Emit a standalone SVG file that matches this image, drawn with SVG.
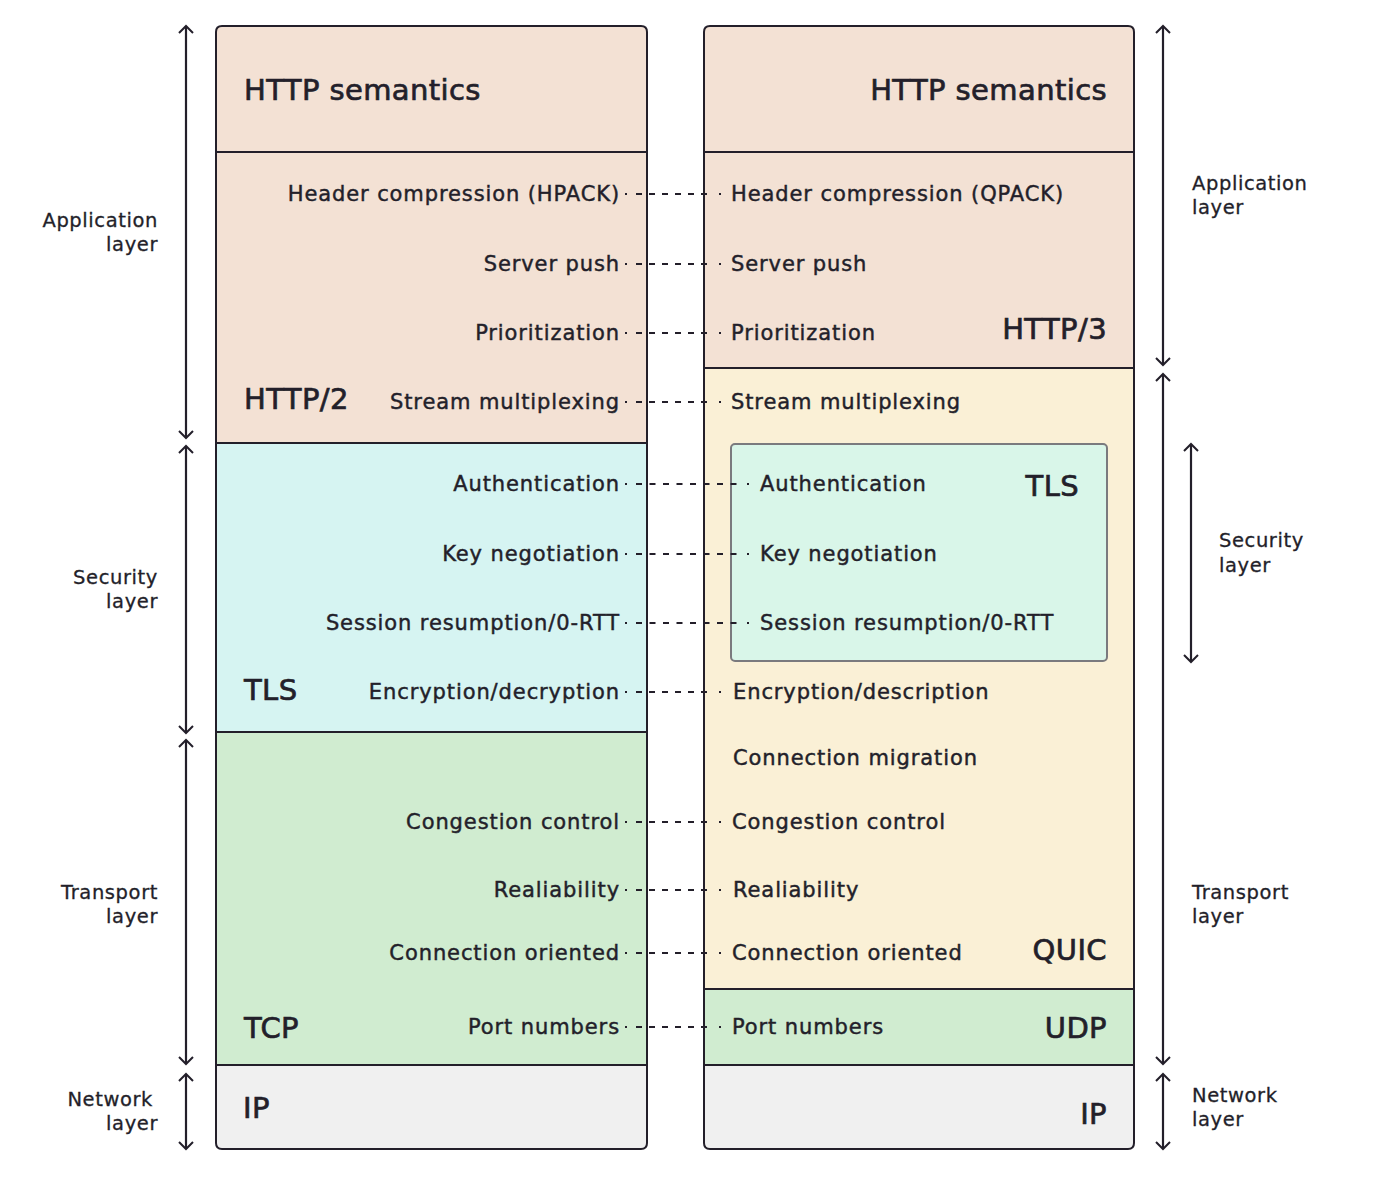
<svg xmlns="http://www.w3.org/2000/svg" width="1378" height="1204" viewBox="0 0 1378 1204">
<defs>
<marker id="ah" viewBox="0 0 16 16" refX="14" refY="8" markerWidth="16" markerHeight="16" markerUnits="userSpaceOnUse" orient="auto-start-reverse">
<path d="M7,1 L14,8 L7,15" fill="none" stroke="#231f2a" stroke-width="2"/>
</marker>
<style>
text{font-family:"DejaVu Sans","Noto Sans",sans-serif;fill:#231f2a;stroke:#231f2a;stroke-width:0.45;paint-order:stroke}
.f{font-size:21px;letter-spacing:0.9px}
.b{font-size:29px;letter-spacing:0.4px;stroke-width:0.7}
.l{font-size:19.5px;letter-spacing:0.6px;stroke-width:0.3}
.r{text-anchor:end}
.box{stroke:#231f2a;stroke-width:2}
.ar{stroke:#231f2a;stroke-width:2.2;fill:none;marker-start:url(#ah);marker-end:url(#ah)}
.d{stroke:#231f2a;stroke-width:2;stroke-dasharray:2 9 6 7 6 7 6 7 6 7 6 7 6 12 2 200;fill:none}
.d2{stroke-dasharray:2 9 6 7.5 6 7.5 6 7.5 6 7.5 6 7.5 6 7.5 6 7.5 6 10.5 2 200}
</style>
</defs>
<rect width="1378" height="1204" fill="#ffffff"/>

<g id="left-stack">
<g id="l-http-sem"><path class="box" d="M216,152 V32 Q216,26 222,26 H641 Q647,26 647,32 V152 Z" fill="#f3e1d4"/><text class="b" x="244" y="100">HTTP semantics</text></g>
<g id="l-http2"><rect class="box" x="216" y="152" width="431" height="291" fill="#f3e1d4"/><text class="b" x="244" y="409">HTTP/2</text>
<text class="f r" x="620" y="201">Header compression (HPACK)</text>
<text class="f r" x="620" y="271">Server push</text>
<text class="f r" x="620" y="340">Prioritization</text>
<text class="f r" x="620" y="409">Stream multiplexing</text></g>
<g id="l-tls"><rect class="box" x="216" y="443" width="431" height="289" fill="#d6f4f2"/><text class="b" x="244" y="700">TLS</text>
<text class="f r" x="620" y="491">Authentication</text>
<text class="f r" x="620" y="561">Key negotiation</text>
<text class="f r" x="620" y="630">Session resumption/0-RTT</text>
<text class="f r" x="620" y="699">Encryption/decryption</text></g>
<g id="l-tcp"><rect class="box" x="216" y="732" width="431" height="333" fill="#d0ecd0"/><text class="b" x="244" y="1038">TCP</text>
<text class="f r" x="620" y="829">Congestion control</text>
<text class="f r" x="620" y="897">Realiability</text>
<text class="f r" x="620" y="960">Connection oriented</text>
<text class="f r" x="620" y="1034">Port numbers</text></g>
<g id="l-ip"><path class="box" d="M216,1065 H647 V1143 Q647,1149 641,1149 H222 Q216,1149 216,1143 Z" fill="#f0f0f0"/><text class="b" x="243" y="1118">IP</text></g>
</g>

<g id="right-stack">
<g id="r-http-sem"><path class="box" d="M704,152 V32 Q704,26 710,26 H1128 Q1134,26 1134,32 V152 Z" fill="#f3e1d4"/><text class="b r" x="1107" y="100">HTTP semantics</text></g>
<g id="r-http3"><rect class="box" x="704" y="152" width="430" height="216" fill="#f3e1d4"/><text class="b r" x="1107" y="339">HTTP/3</text>
<text class="f" x="731" y="201">Header compression (QPACK)</text>
<text class="f" x="731" y="271">Server push</text>
<text class="f" x="731" y="340">Prioritization</text></g>
<g id="r-quic"><rect class="box" x="704" y="368" width="430" height="621" fill="#faf0d6"/><text class="b r" x="1107" y="960">QUIC</text>
<text class="f" x="731" y="409">Stream multiplexing</text>
<text class="f" x="733" y="699">Encryption/description</text>
<text class="f" x="733" y="765">Connection migration</text>
<text class="f" x="732" y="829">Congestion control</text>
<text class="f" x="733" y="897">Realiability</text>
<text class="f" x="732" y="960">Connection oriented</text></g>
<g id="r-tls"><rect x="731" y="444" width="376" height="217" rx="4" fill="#d9f6e9" stroke="#7a7a7e" stroke-width="2"/><text class="b r" x="1079" y="496">TLS</text>
<text class="f" x="760" y="491">Authentication</text>
<text class="f" x="760" y="561">Key negotiation</text>
<text class="f" x="760" y="630">Session resumption/0-RTT</text></g>
<g id="r-udp"><rect class="box" x="704" y="989" width="430" height="76" fill="#d0ecd0"/><text class="b r" x="1107" y="1038">UDP</text>
<text class="f" x="732" y="1034">Port numbers</text></g>
<g id="r-ip"><path class="box" d="M704,1065 H1134 V1143 Q1134,1149 1128,1149 H710 Q704,1149 704,1143 Z" fill="#f0f0f0"/><text class="b r" x="1107" y="1124">IP</text></g>
</g>

<g id="connectors">
<path class="d" d="M625,194 H723"/>
<path class="d" d="M625,264 H723"/>
<path class="d" d="M625,333 H723"/>
<path class="d" d="M625,402 H723"/>
<path class="d d2" d="M625,484 H750"/>
<path class="d d2" d="M625,554 H750"/>
<path class="d d2" d="M625,623 H750"/>
<path class="d" d="M625,692 H723"/>
<path class="d" d="M625,822 H723"/>
<path class="d" d="M625,890 H723"/>
<path class="d" d="M625,953 H723"/>
<path class="d" d="M625,1027 H723"/>
</g>

<g id="layer-arrows">
<line class="ar" x1="186" y1="26" x2="186" y2="438"/>
<line class="ar" x1="186" y1="446" x2="186" y2="733"/>
<line class="ar" x1="186" y1="740" x2="186" y2="1064"/>
<line class="ar" x1="186" y1="1074" x2="186" y2="1149"/>
<line class="ar" x1="1163" y1="26" x2="1163" y2="365"/>
<line class="ar" x1="1163" y1="374" x2="1163" y2="1064"/>
<line class="ar" x1="1163" y1="1074" x2="1163" y2="1149"/>
<line class="ar" x1="1191" y1="444" x2="1191" y2="662"/>
</g>

<g id="layer-labels">
<text class="l r" x="158" y="227">Application</text><text class="l r" x="158" y="251">layer</text>
<text class="l r" x="158" y="584">Security</text><text class="l r" x="158" y="608">layer</text>
<text class="l r" x="158" y="899">Transport</text><text class="l r" x="158" y="923">layer</text>
<text class="l r" x="153" y="1106">Network</text><text class="l r" x="158" y="1130">layer</text>
<text class="l" x="1192" y="190">Application</text><text class="l" x="1192" y="214">layer</text>
<text class="l" x="1219" y="547">Security</text><text class="l" x="1219" y="572">layer</text>
<text class="l" x="1192" y="899">Transport</text><text class="l" x="1192" y="923">layer</text>
<text class="l" x="1192" y="1102">Network</text><text class="l" x="1192" y="1126">layer</text>
</g>
</svg>
